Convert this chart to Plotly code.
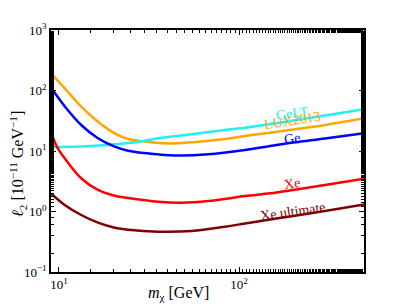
import numpy as np
import plotly.graph_objects as go

# masses [GeV] and limits [1e-11 GeV^-1]
lux_mass = [9.03, 10.76, 13.3, 16.47, 20.4, 24.2, 30, 36, 45, 55, 84, 108, 149, 200, 300, 494]
lux_vals = [192, 109, 54, 30.5, 19.6, 15.8, 14.3, 13.5, 13.4, 13.9, 15.8, 17.7, 20.1, 22.7, 26.9, 34.7]

gelt_mass = [9.03, 13.3, 18.7, 24.2, 30, 35.6, 54.6, 83.6, 108, 149, 200, 300, 494]
gelt_vals = [11.6, 11.9, 12.6, 13.5, 14.8, 16.2, 18.9, 22.2, 24.3, 27.9, 31.9, 38.6, 48.9]

ge_mass = [9.03, 10.76, 13.3, 16.47, 20.4, 24.2, 35.6, 46, 67.5, 108, 149, 200, 300, 494]
ge_vals = [112, 55, 26.9, 16.2, 11.8, 10.1, 8.8, 8.4, 8.8, 10.4, 12.1, 13.8, 16.1, 19.6]

xe_mass = [9.03, 9.79, 10.76, 13.3, 16.47, 20.4, 24.2, 35.6, 48.1, 67.5, 108, 149, 200, 300, 494]
xe_vals = [20.5, 11.5, 7.6, 3.54, 2.27, 1.82, 1.67, 1.45, 1.40, 1.49, 1.80, 2.0, 2.27, 2.74, 3.48]

xeu_mass = [9.03, 10.76, 13.3, 16.47, 20.4, 24.2, 35.6, 54.6, 83.6, 108, 149, 200, 300, 494]
xeu_vals = [1.98, 1.28, 0.875, 0.653, 0.540, 0.50, 0.464, 0.476, 0.561, 0.634, 0.738, 0.843, 1.02, 1.31]

series_names = ["LUX2013", "GeLT", "Ge", "Xe", "Xe ultimate"]
series_masses = [lux_mass, gelt_mass, ge_mass, xe_mass, xeu_mass]
series_values = [lux_vals, gelt_vals, ge_vals, xe_vals, xeu_vals]
series_colors = ["#FFA500", "#22F0F0", "#0000FF", "#FF0000", "#7F0000"]

label_mass = [197, 197, 197, 198, 200]
label_value = [32.0, 41.5, 16.4, 2.95, 1.0]
label_angle = [-9, -8, -7, -8, -8]

y_tickvals = [0.1, 1, 10, 100, 1000]
y_ticktext = ["10<sup>\u22121</sup>", "10<sup>0</sup>", "10<sup>1</sup>", "10<sup>2</sup>", "10<sup>3</sup>"]
x_tickvals = [10, 100]
x_ticktext = ["10<sup>1</sup>", "10<sup>2</sup>"]

FONT = "Liberation Serif, Times New Roman, serif"

fig = go.Figure()
for name, ms, vals, col in zip(series_names, series_masses, series_values, series_colors):
    fig.add_trace(go.Scatter(x=ms, y=vals, mode="lines", name=name,
                             line=dict(color=col, width=2.5, shape="spline", smoothing=1.0)))

for name, m, v, a, col in zip(series_names, label_mass, label_value, label_angle, series_colors):
    fig.add_annotation(x=np.log10(m), y=np.log10(v), xref="x", yref="y", text=name,
                       showarrow=False, textangle=a, font=dict(family=FONT, size=14, color=col))

# axis titles
fig.add_annotation(x=0.406, y=-0.087, xref="paper", yref="paper", xanchor="center", yanchor="middle",
                   text="<i>m</i><sub>\u03c7</sub> [GeV]", showarrow=False,
                   font=dict(family=FONT, size=16, color="black"))
fig.add_annotation(x=-0.106, y=0.446, xref="paper", yref="paper", xanchor="center", yanchor="middle",
                   text="<i>\u2113</i><sub>2</sub> [10<sup>\u221211</sup> GeV<sup>\u22121</sup>]",
                   showarrow=False, textangle=-90, font=dict(family=FONT, size=16, color="black"))

axis_common = dict(type="log", showgrid=False, zeroline=False, showline=True, linecolor="black",
                   linewidth=1.5, mirror="allticks", ticks="inside", ticklen=5, tickwidth=1.2,
                   tickcolor="black", automargin=False,
                   minor=dict(ticks="inside", ticklen=3, tickwidth=1, tickcolor="black", showgrid=False),
                   tickfont=dict(family=FONT, size=13, color="black"))

fig.update_xaxes(**axis_common, range=[0.956, 2.694], tickvals=x_tickvals, ticktext=x_ticktext)
fig.update_yaxes(**axis_common, range=[-1, 3], tickvals=y_tickvals, ticktext=y_ticktext)

# page body has an 8px default margin, so the figure is sized to fit the 405x304 window
fig.update_layout(width=397, height=296, margin=dict(l=43, r=41, t=22, b=32),
                  paper_bgcolor="white", plot_bgcolor="white", showlegend=False)

fig.write_html("out.html")
